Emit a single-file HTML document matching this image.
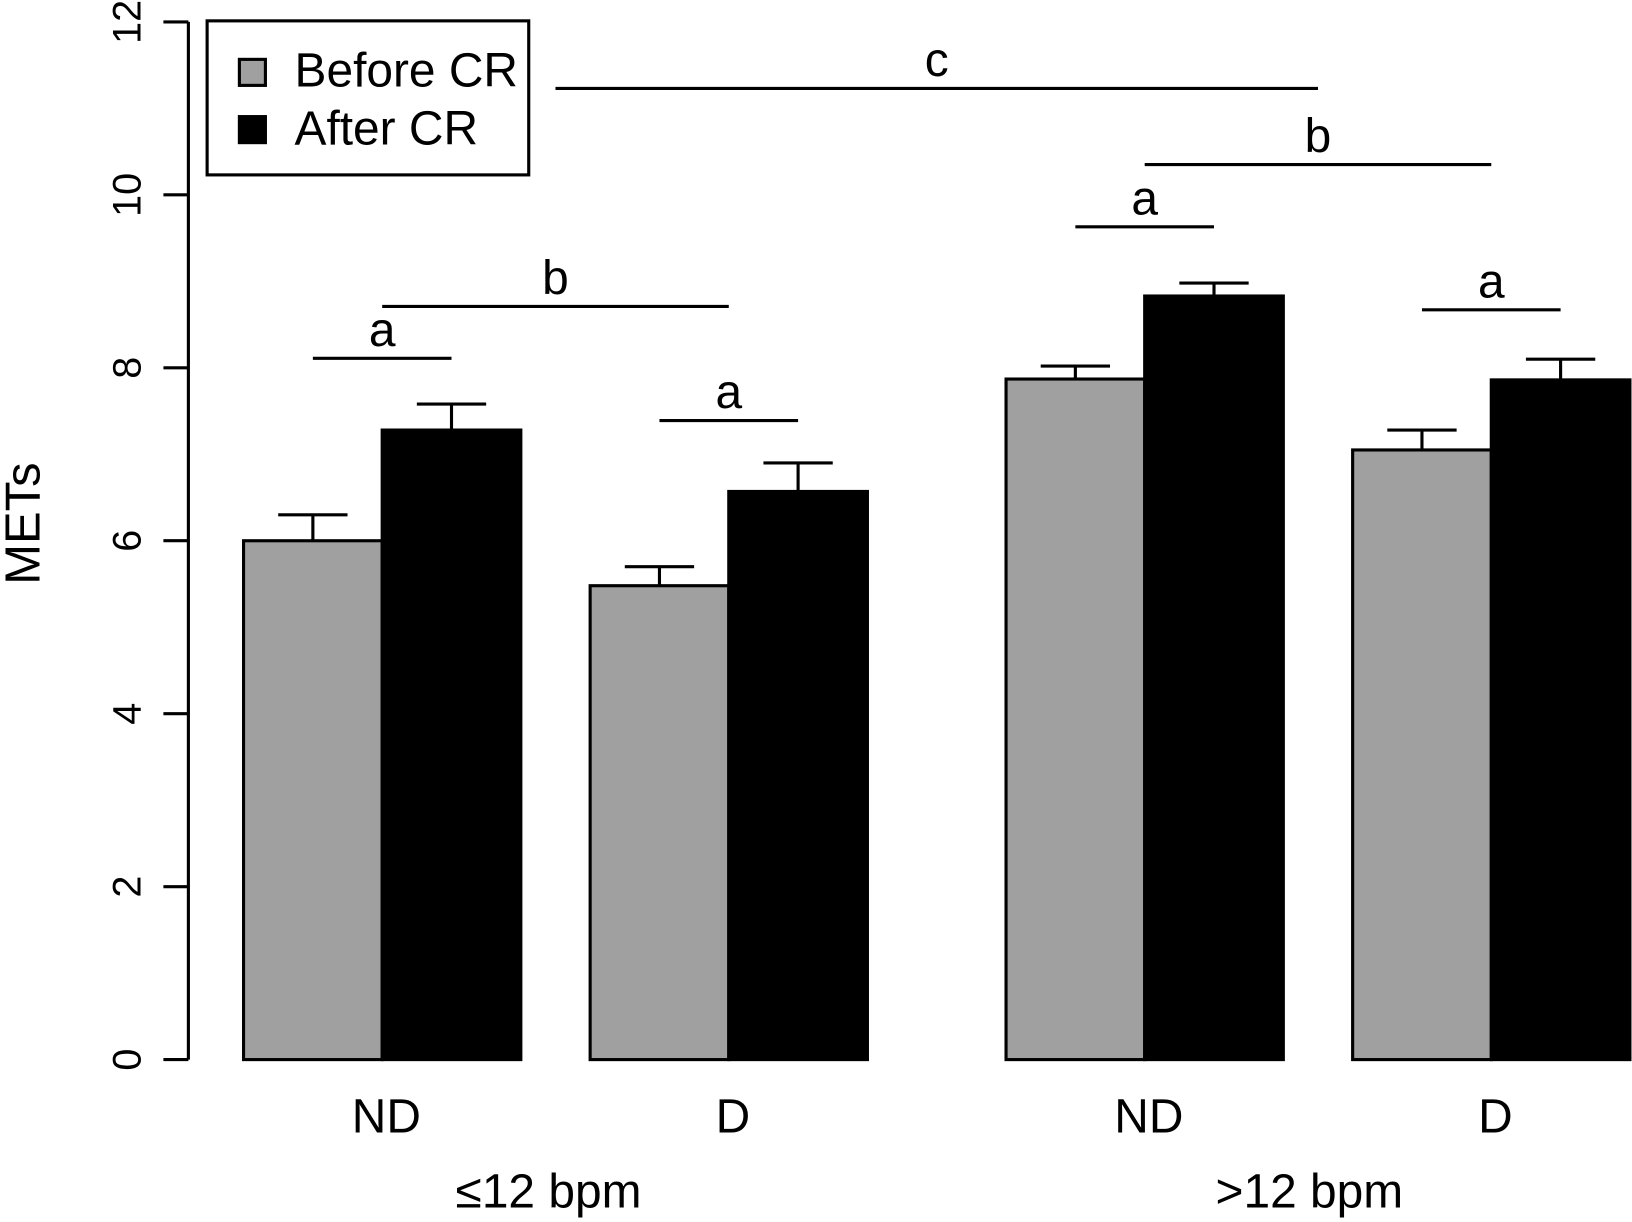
<!DOCTYPE html>
<html><head><meta charset="utf-8"><style>
html,body{margin:0;padding:0;background:#fff;}
svg{display:block;font-family:"Liberation Sans",Arial,sans-serif;}
</style></head><body>
<svg id="chart" width="1632" height="1222" viewBox="0 0 1568 1174" xmlns="http://www.w3.org/2000/svg">
<g id="axis"></g>
<g id="bars"></g>
<g id="sig"></g>
<text x="38" y="503" font-size="47" text-anchor="middle" transform="rotate(-90 38 503)">METs</text>
<g>
<rect x="199" y="20" width="309" height="148" fill="#fff" stroke="#000" stroke-width="3"/>
<rect x="230" y="57" width="25" height="25" fill="#a0a0a0" stroke="#000" stroke-width="3"/>
<text x="283" y="83" font-size="46">Before CR</text>
<rect x="230" y="112" width="25" height="25" fill="#000" stroke="#000" stroke-width="3"/>
<text x="283" y="139" font-size="46">After CR</text>
</g>
<text x="527" y="1160" font-size="46" text-anchor="middle">≤12 bpm</text>
<text x="1258" y="1160" font-size="46" text-anchor="middle">&gt;12 bpm</text>
<script>
const categories=["ND","D","ND","D"];
const beforeVals=[6.0,5.48,7.87,7.05];
const afterVals=[7.28,6.57,8.83,7.86];
const beforeErr=[0.3,0.22,0.15,0.23];
const afterErr=[0.3,0.33,0.15,0.24];
const yTicks=[0,2,4,6,8,10,12];
const sigLabels=["a","b","a","a","b","a","c"];
const sigLevels=[8.11,8.71,7.39,9.63,10.35,8.67,11.23];
const sigFrom=[0.5,1,3,6,6.5,8.5,2.25];
const sigTo=[1.5,3.5,4,7,9,9.5,7.75];

const NS="http://www.w3.org/2000/svg";
const y0=1018, yScale=(1018-21)/12;
function y(v){return y0-v*yScale;}
const bw=133.2, left0=234;
const groupStart=[0,2.5,5.5,8];
function xAt(u){return left0+u*bw;}
function mk(tag,attrs,parent){const e=document.createElementNS(NS,tag);for(const k in attrs)e.setAttribute(k,attrs[k]);parent.appendChild(e);return e;}
const axis=document.getElementById('axis');
let a=mk('line',{x1:181,x2:181,y1:y(0),y2:y(12),stroke:'#000','stroke-width':3},axis);


yTicks.forEach(t=>{
  const l=mk('line',{x1:157,x2:181,y1:y(t),y2:y(t),stroke:'#000','stroke-width':3},axis);
  
  
  const tx=mk('text',{x:135,y:y(t),'font-size':38,'text-anchor':'middle',transform:`rotate(-90 135 ${y(t)})`},axis);
  tx.textContent=t;
  
  
});
const bars=document.getElementById('bars');
for(let g=0;g<4;g++){
  [[beforeVals,beforeErr,'#a0a0a0'],[afterVals,afterErr,'#000']].forEach((s,w)=>{
    const x=xAt(groupStart[g]+w), v=s[0][g], e=s[1][g];
    const r=mk('rect',{x:x,y:y(v),width:bw,height:y(0)-y(v),fill:s[2],stroke:'#000','stroke-width':3},bars);
    
    
    const cx=x+bw/2;
    const eb=mk('path',{d:`M${cx},${y(v)}V${y(v+e)}M${cx-bw/4},${y(v+e)}H${cx+bw/4}`,stroke:'#000','stroke-width':3,fill:'none'},bars);
    
    
  });
  const t=mk('text',{x:xAt(groupStart[g]+1)+4,y:1088,'font-size':46,'text-anchor':'middle'},bars);
  t.textContent=categories[g];
  
  
}
const sig=document.getElementById('sig');
sigLabels.forEach((lab,k)=>{
  const x1=xAt(sigFrom[k]), x2=xAt(sigTo[k]);
  const l=mk('line',{x1:x1,x2:x2,y1:y(sigLevels[k]),y2:y(sigLevels[k]),stroke:'#000','stroke-width':3},sig);
  
  
  const t=mk('text',{x:(x1+x2)/2,y:y(sigLevels[k])-12,'font-size':46,'text-anchor':'middle'},sig);
  t.textContent=lab;
  
  
});
</script>
</svg>
</body></html>
